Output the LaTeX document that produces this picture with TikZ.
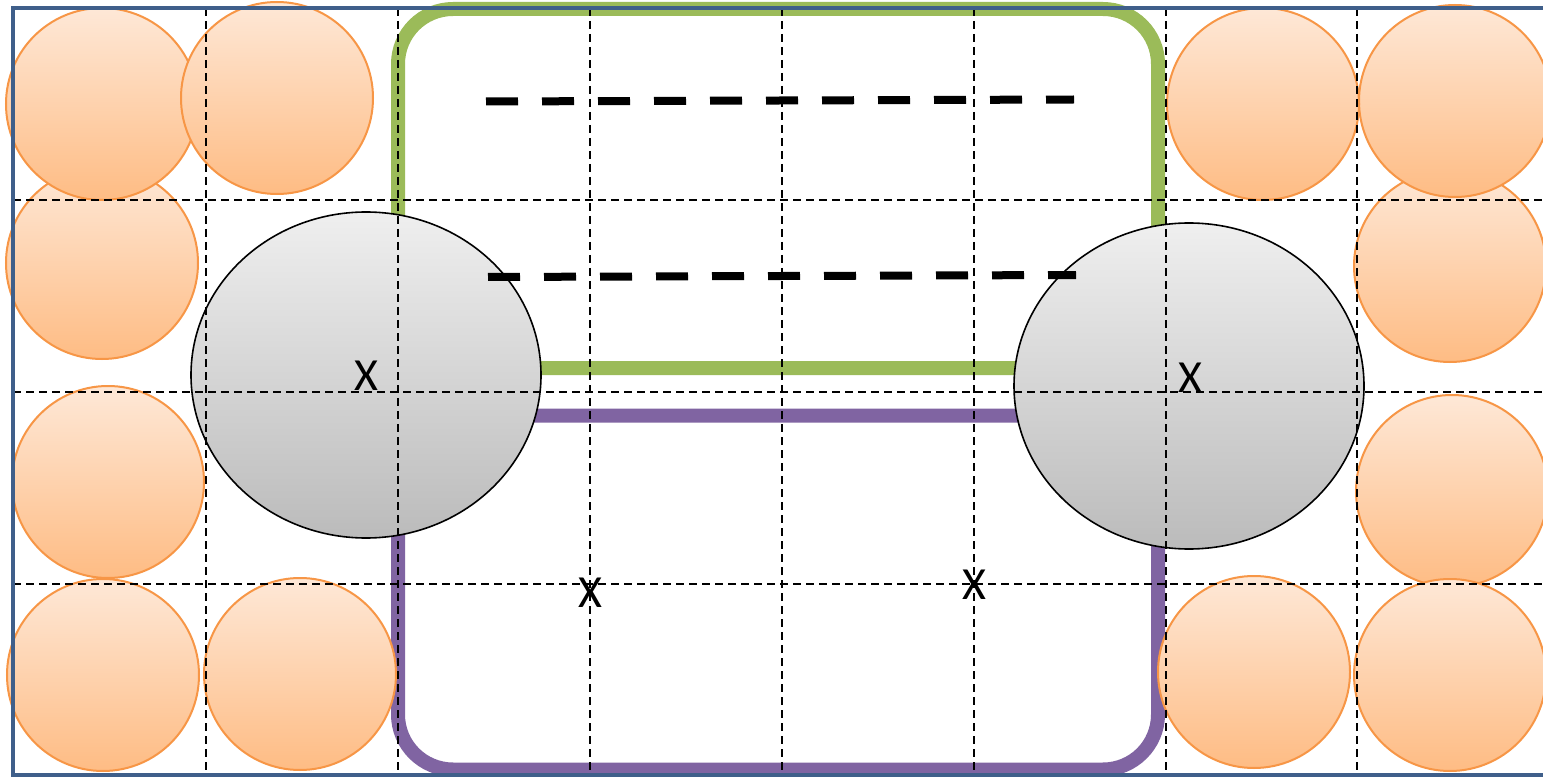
\documentclass[tikz,border=0pt]{standalone}
\usepackage{fontspec}
\setmainfont{Carlito}
\usetikzlibrary{shapes.geometric}
\definecolor{ballline}{HTML}{F79646}
\definecolor{balltop}{HTML}{FEE8D7}
\definecolor{ballbot}{HTML}{FEBC84}
\definecolor{greytop}{HTML}{EFEFEF}
\definecolor{greybot}{HTML}{BBBBBB}
\definecolor{greenline}{HTML}{9BBB59}
\definecolor{purpleline}{HTML}{8064A2}
\definecolor{frameblue}{HTML}{3F5F8A}
\tikzset{
  ball/.style={circle, draw=ballline, line width=2pt, top color=balltop, bottom color=ballbot, minimum size=192pt, inner sep=0pt},
  greyell/.style={ellipse, draw=black, line width=1.6pt, top color=greytop, bottom color=greybot, minimum width=350pt, minimum height=326pt, inner sep=0pt},
  loopbox/.style={rectangle, rounded corners=55pt, line width=14pt, minimum width=760pt, inner sep=0pt},
  gridline/.style={black, line width=2pt, dash pattern=on 8pt off 5pt},
  thickdash/.style={black, line width=8pt, dash pattern=on 32pt off 24pt},
  framebox/.style={draw=frameblue, line width=4.5pt},
  lbl/.style={inner sep=0pt, font=\fontsize{46}{54}\selectfont}
}
\begin{document}
\begin{tikzpicture}[x=1pt,y=-1pt]
\useasboundingbox (0,0) rectangle (1543,778);
\clip (0,0) rectangle (1543,778);
\fill[white] (0,0) rectangle (1543,778);
% loops
\node[loopbox, draw=greenline, minimum height=359pt] (green) at (778,188.5) {};
\node[loopbox, draw=purpleline, minimum height=354pt] (purple) at (778,592.5) {};
% orange balls
\node[ball] (c3) at (102,263) {};
\node[ball] (c1) at (102,104) {};
\node[ball] (c2) at (277,98) {};
\node[ball] (c4) at (108,482) {};
\node[ball] (c5) at (103,675) {};
\node[ball] (c6) at (300,674) {};
\node[ball] (c9) at (1450,266) {};
\node[ball] (c8) at (1455,101) {};
\node[ball] (c7) at (1263,104) {};
\node[ball] (c10) at (1452,491) {};
\node[ball] (c12) at (1450,675) {};
\node[ball] (c11) at (1254,672) {};
% grey ellipses
\node[greyell] (eL) at (366,375) {};
\node[greyell] (eR) at (1189,386) {};
% labels
\node[lbl] (xL) at (366,376) {X};
\node[lbl] (xR) at (1190,378) {X};
\node[lbl] (xA) at (590,593) {X};
\node[lbl] (xB) at (974,585) {X};
% thick dashed lines
\coordinate (t1) at (486,101.5);
\coordinate (t2) at (1074,99.5);
\coordinate (b1) at (488,277);
\coordinate (b2) at (1076,275);
\draw[thickdash] (t1) -- (t2);
\draw[thickdash] (b1) -- (b2);
% grid
\foreach \gx in {206,398,590,782,974,1166,1357}
  \draw[gridline] (\gx,8) -- (\gx,775);
\foreach \gy in {200,392,584}
  \draw[gridline] (13,\gy) -- (1543,\gy);
% frame
\draw[framebox] (13,8) rectangle (1600,775);
\end{tikzpicture}
\end{document}
